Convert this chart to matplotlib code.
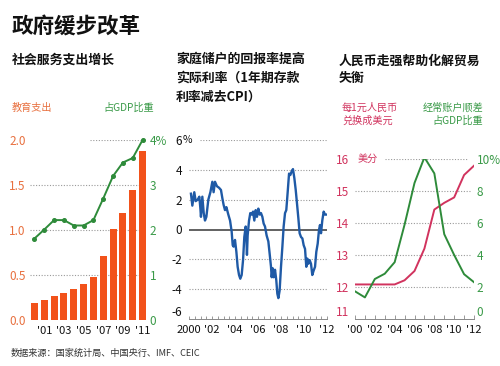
import matplotlib
matplotlib.use("Agg")
import matplotlib.pyplot as plt
from matplotlib.ticker import MultipleLocator

plt.rcParams['font.family'] = ['Noto Sans CJK SC', 'DejaVu Sans']

# ---------------- data ----------------
# Panel 1: social spending (education) and share of GDP
edu_years = list(range(2000, 2012))
edu_spend = [0.185, 0.22, 0.27, 0.30, 0.34, 0.40, 0.48, 0.71, 1.01, 1.19, 1.44, 1.88]
edu_gdp = [1.81, 2.01, 2.22, 2.22, 2.10, 2.10, 2.22, 2.70, 3.20, 3.50, 3.60, 4.00]
edu_ticklabels = ["'01", "'03", "'05", "'07", "'09", "'11"]

# Panel 2: real deposit rate (1-yr deposit rate minus CPI)
rate_t = [2000.17, 2000.29, 2000.46, 2000.58, 2000.75, 2000.90, 2000.99, 2001.04, 2001.16, 2001.28,
          2001.39, 2001.51, 2001.68, 2001.86, 2002.03, 2002.14, 2002.26, 2002.43, 2002.61, 2002.78,
          2002.90, 2003.01, 2003.13, 2003.25, 2003.42, 2003.57, 2003.71, 2003.80, 2003.88, 2004.00,
          2004.12, 2004.23, 2004.35, 2004.46, 2004.58, 2004.70, 2004.81, 2004.93, 2004.99, 2005.04,
          2005.10, 2005.22, 2005.33, 2005.45, 2005.57, 2005.68, 2005.80, 2005.91, 2006.03, 2006.14,
          2006.26, 2006.38, 2006.49, 2006.61, 2006.75, 2006.90, 2007.01, 2007.13, 2007.19, 2007.28,
          2007.36, 2007.48, 2007.59, 2007.68, 2007.77, 2007.88, 2008.00, 2008.12, 2008.23, 2008.35,
          2008.46, 2008.58, 2008.70, 2008.81, 2008.93, 2009.04, 2009.16, 2009.28, 2009.39, 2009.51,
          2009.62, 2009.74, 2009.86, 2009.97, 2010.09, 2010.20, 2010.29, 2010.38, 2010.49, 2010.61,
          2010.72, 2010.84, 2010.96, 2011.07, 2011.19, 2011.30, 2011.39, 2011.48, 2011.59, 2011.71,
          2011.83, 2011.97]
rate_v = [2.4, 1.6, 2.5, 1.9, 2.0, 2.2, 1.4, 0.85, 2.2, 1.1,
          0.6, 0.85, 2.0, 2.5, 3.2, 2.5, 3.2, 2.9, 2.8, 2.65,
          2.1, 1.65, 1.3, 1.5, 1.0, 0.6, -0.15, -1.05, -1.15, -0.7,
          -1.5, -2.5, -3.05, -3.3, -3.05, -2.05, -0.5, 0.2, -0.6, -1.7,
          -0.4, 0.6, 1.1, 1.0, 1.2, 0.6, 1.3, 0.85, 1.4, 1.0,
          1.1, 0.85, 0.4, 0.2, -0.4, -0.8, -1.6, -2.5, -3.2, -2.6,
          -3.2, -2.7, -3.4, -4.3, -4.6, -4.1, -2.5, -1.15, 0.2, 1.1,
          1.3, 2.5, 3.75, 3.65, 3.9, 4.05, 3.45, 2.65, 1.75, 0.75,
          -0.25, -0.5, -0.6, -1.05, -1.3, -2.5, -1.95, -2.3, -2.05, -2.3,
          -3.05, -2.75, -2.5, -1.5, -0.95, -0.05, 0.3, -0.25, 0.6, 1.2,
          1.0, 1.0]
rate_ticks = [2000, 2002, 2004, 2006, 2008, 2010, 2012]
rate_ticklabels = ["2000", "'02", "'04", "'06", "'08", "'10", "'12"]

# Panel 3: yuan in US cents and current-account surplus % of GDP
fx_years = list(range(2000, 2013))
fx_cents = [12.08, 12.08, 12.08, 12.08, 12.08, 12.21, 12.50, 13.20, 14.42, 14.63, 14.80, 15.50, 15.79]
ca_gdp = [1.73, 1.35, 2.50, 2.83, 3.55, 5.90, 8.50, 10.10, 9.10, 5.30, 4.00, 2.80, 2.30]
fx_ticklabels = ["'00", "'02", "'04", "'06", "'08", "'10", "'12"]

# ---------------- style ----------------
W, H = 500, 366
ORANGE = '#f2521a'
ORANGE_T = '#e8703f'
GREEN = '#2e8b3a'
GREEN_T = '#3a9a48'
BLUE = '#1f5aa6'
CRIMSON = '#d1335e'
GRID = '#9a9a9a'

fig = plt.figure(figsize=(W / 100, H / 100), dpi=100)
fig.patch.set_facecolor('white')


def box(l, t, r, b):
    return [l / W, 1 - b / H, (r - l) / W, (b - t) / H]


def ftext(x, y, s, **kw):
    kw.setdefault('va', 'center')
    fig.text(x / W, 1 - y / H, s, **kw)


def gridline(ax, y, x0=0.0, x1=1.0):
    ax.axhline(y, xmin=x0, xmax=x1, color=GRID, lw=0.8, ls=(0, (1, 1.5)), zorder=0)


# titles
ftext(12, 26, '政府缓步改革', fontsize=15.5, fontweight='bold', color='#111111')
ftext(12, 60, '社会服务支出增长', fontsize=9.3, fontweight='bold', color='#111111')
ftext(176, 59, '家庭储户的回报率提高', fontsize=9.3, fontweight='bold', color='#111111')
ftext(176, 78, '实际利率（1年期存款', fontsize=9.3, fontweight='bold', color='#111111')
ftext(176, 97, '利率减去CPI）', fontsize=9.3, fontweight='bold', color='#111111')
ftext(339, 61, '人民币走强帮助化解贸易', fontsize=9.3, fontweight='bold', color='#111111')
ftext(339, 78, '失衡', fontsize=9.3, fontweight='bold', color='#111111')

# legends
ftext(12, 107.5, '教育支出', fontsize=7.3, color=ORANGE_T)
ftext(103, 107.5, '占GDP比重', fontsize=7.3, color=GREEN_T)
ftext(342, 107.5, '每1元人民币', fontsize=7.3, color=CRIMSON)
ftext(342, 121, '兑换成美元', fontsize=7.3, color=CRIMSON)
ftext(483, 107.5, '经常账户顺差', fontsize=7.3, color=GREEN_T, ha='right')
ftext(483, 121, '占GDP比重', fontsize=7.3, color=GREEN_T, ha='right')

# footer
ftext(11, 353, '数据来源：国家统计局、中国央行、IMF、CEIC', fontsize=6.6, color='#333333')

# ---------------- panel 1 ----------------
ax1 = fig.add_axes(box(30, 140, 147, 320))
xs = list(range(len(edu_years)))
ax1.bar(xs, edu_spend, width=0.7, color=ORANGE, zorder=2)
ax1.set_xlim(-0.45, 11.45)
ax1.set_ylim(0, 2.0)
for y in (0.5, 1.0, 1.5):
    gridline(ax1, y)
gridline(ax1, 2.0, 0.51, 0.95)
ax1.set_yticks([0.0, 0.5, 1.0, 1.5, 2.0])
ax1.set_yticklabels(['0.0', '0.5', '1.0', '1.5', '2.0'])
ax1.tick_params(axis='y', length=0, pad=3, labelsize=8.5, labelcolor=ORANGE_T)
ax1.set_xticks([1, 3, 5, 7, 9, 11])
ax1.set_xticklabels(edu_ticklabels)
ax1.tick_params(axis='x', length=0, pad=4, labelsize=8, labelcolor='#111111')
for s in ax1.spines.values():
    s.set_visible(False)
ax1.patch.set_alpha(0)

ax1b = ax1.twinx()
ax1b.plot(xs, edu_gdp, color=GREEN, lw=1.4, marker='o', ms=2.6, zorder=3, clip_on=False)
ax1b.set_ylim(0, 4)
ax1b.set_yticks([0, 1, 2, 3, 4])
ax1b.set_yticklabels(['0', '1', '2', '3', '4%'])
ax1b.tick_params(axis='y', length=0, pad=2, labelsize=8.5, labelcolor=GREEN_T)
for s in ax1b.spines.values():
    s.set_visible(False)

# ---------------- panel 2 ----------------
ax2 = fig.add_axes(box(189, 140, 327, 319))
ax2.set_xlim(2000, 2012)
ax2.set_ylim(-6, 6)
for y in (4, 2, -2, -4):
    gridline(ax2, y)
gridline(ax2, 6, 0.08, 1.0)
ax2.axhline(0, color='#555555', lw=1.3, zorder=1)
ax2.plot(rate_t, rate_v, color=BLUE, lw=1.7, zorder=3)
ax2.set_yticks([6, 4, 2, 0, -2, -4, -6])
ax2.set_yticklabels(['6', '4', '2', '0', '-2', '-4', '-6'])
ax2.tick_params(axis='y', length=0, pad=5, labelsize=8.5, labelcolor='#111111')
for lab in ax2.get_yticklabels()[-1:]:
    lab.set_va('bottom')
ax2.text(-0.045, 6, '%', transform=ax2.get_yaxis_transform(), fontsize=7.5,
         va='center', ha='left', color='#111111')
ax2.set_xticks(rate_ticks)
ax2.set_xticklabels(rate_ticklabels)
ax2.xaxis.set_minor_locator(MultipleLocator(0.5))
ax2.tick_params(axis='x', which='both', direction='in', length=2.5, width=0.6,
                color='#888888', pad=4, labelsize=8, labelcolor='#111111')
for k in ('left', 'right', 'top'):
    ax2.spines[k].set_visible(False)
ax2.spines['bottom'].set_color('#888888')
ax2.spines['bottom'].set_linewidth(0.7)
ax2.patch.set_alpha(0)

# ---------------- panel 3 ----------------
ax3 = fig.add_axes(box(355, 159, 474, 319))
ax3.set_xlim(2000, 2012)
ax3.set_ylim(11, 16)
for y in (12, 13, 14, 15):
    gridline(ax3, y, 0.0, 0.97)
gridline(ax3, 16, 0.25, 0.94)
ax3.plot(fx_years, fx_cents, color=CRIMSON, lw=1.4, zorder=3)
ax3.set_yticks([11, 12, 13, 14, 15, 16])
ax3.tick_params(axis='y', length=0, pad=4, labelsize=8.5, labelcolor=CRIMSON)
for lab in ax3.get_yticklabels()[:1]:
    lab.set_va('bottom')
ax3.text(0.02, 16, '美分', transform=ax3.get_yaxis_transform(), fontsize=7.3,
         va='center', ha='left', color=CRIMSON)
ax3.set_xticks(list(range(2000, 2013, 2)))
ax3.set_xticklabels(fx_ticklabels)
ax3.xaxis.set_minor_locator(MultipleLocator(1))
ax3.tick_params(axis='x', which='both', direction='in', length=3, width=0.6,
                color='#888888', pad=4, labelsize=8, labelcolor='#111111')
for k in ('left', 'right', 'top'):
    ax3.spines[k].set_visible(False)
ax3.spines['bottom'].set_color('#888888')
ax3.spines['bottom'].set_linewidth(0.7)
ax3.patch.set_alpha(0)

ax3b = ax3.twinx()
ax3b.plot(fx_years, ca_gdp, color=GREEN, lw=1.4, zorder=3)
ax3b.set_ylim(0, 10)
ax3b.set_yticks([0, 2, 4, 6, 8, 10])
ax3b.set_yticklabels(['0', '2', '4', '6', '8', '10%'])
ax3b.tick_params(axis='y', length=0, pad=2, labelsize=8.5, labelcolor=GREEN_T)
for lab in ax3b.get_yticklabels()[:1]:
    lab.set_va('bottom')
for s in ax3b.spines.values():
    s.set_visible(False)

fig.savefig('out.png', dpi=100, facecolor='white')
